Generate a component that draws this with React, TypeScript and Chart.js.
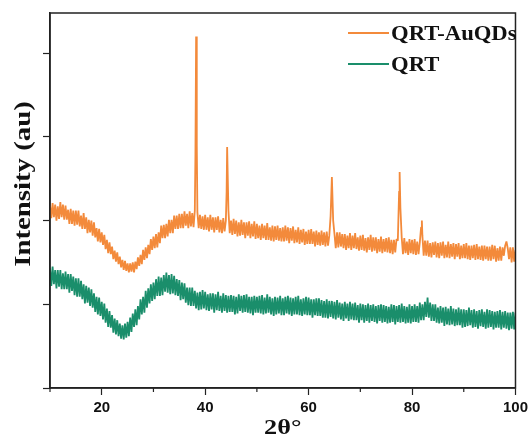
import React, { useEffect, useRef } from "react";
import { Chart, registerables } from "chart.js";

Chart.register(...registerables);

// 2θ sampling grid (degrees), 0.25° steps from 10 to 100
const angleStart = 10;
const angleStep = 0.25;

// QRT-AuQDs intensity on the 0.25° grid (a.u.), 20 values = 5° per row
const auqdsValues = [
  218, 203, 221, 204, 219, 200, 217, 202, 222, 204, 219, 201, 218, 201, 213, 196, 214, 196, 212, 194,
  212, 195, 212, 193, 206, 190, 209, 190, 204, 185, 201, 186, 200, 182, 198, 180, 191, 175, 190, 174,
  186, 171, 183, 166, 177, 161, 174, 160, 169, 154, 164, 151, 162, 148, 157, 144, 153, 141, 152, 140,
  149, 138, 149, 139, 150, 138, 151, 142, 156, 146, 159, 148, 165, 153, 168, 155, 171, 160, 178, 165,
  181, 167, 184, 168, 186, 173, 194, 179, 195, 179, 196, 181, 201, 185, 201, 185, 206, 190, 206, 190,
  208, 191, 208, 191, 211, 194, 208, 191, 211, 193, 209, 192, 212, 420, 210, 191, 207, 190, 205, 189,
  207, 189, 204, 187, 207, 189, 204, 186, 204, 189, 205, 186, 201, 185, 203, 187, 200, 288, 212, 185,
  200, 183, 202, 184, 200, 181, 198, 182, 201, 183, 198, 179, 198, 182, 199, 179, 196, 181, 199, 178,
  196, 179, 194, 177, 196, 179, 194, 177, 197, 177, 192, 176, 194, 175, 193, 177, 194, 176, 191, 175,
  192, 175, 194, 176, 192, 173, 191, 176, 193, 173, 189, 174, 192, 172, 189, 174, 190, 171, 187, 172,
  189, 172, 190, 172, 187, 169, 188, 171, 186, 170, 188, 171, 186, 169, 187, 170, 182, 205, 252, 200,
  184, 167, 186, 168, 186, 169, 184, 167, 184, 165, 182, 167, 185, 165, 182, 167, 185, 166, 180, 164,
  182, 165, 183, 164, 179, 162, 180, 165, 183, 163, 180, 164, 180, 161, 178, 163, 181, 161, 178, 163,
  179, 162, 180, 161, 177, 160, 177, 162, 178, 176, 235, 215, 180, 160, 179, 161, 175, 159, 178, 161,
  177, 160, 178, 159, 175, 160, 174, 192, 182, 158, 176, 158, 176, 157, 173, 156, 174, 159, 175, 156,
  173, 155, 174, 158, 175, 155, 171, 156, 175, 155, 172, 157, 173, 154, 172, 157, 173, 154, 170, 155,
  172, 155, 173, 154, 170, 153, 170, 155, 171, 153, 172, 154, 169, 153, 170, 152, 170, 154, 169, 152,
  169, 152, 171, 154, 170, 151, 167, 152, 169, 152, 168, 158, 170, 175, 167, 154, 168, 150, 168, 151,
  165,
];

// extra samples across the sharp Au reflections
const auqdsPeakAngles = [38.12, 38.38, 44.15, 77.6, 81.9];
const auqdsPeakValues = [280, 290, 235, 258, 200];

// QRT intensity on the 0.25° grid (a.u.), 20 values = 5° per row
const qrtValues = [
  143, 122, 145, 124, 141, 119, 141, 121, 141, 118, 137, 118, 139, 118, 136, 114, 136, 116, 133, 111,
  131, 109, 131, 109, 128, 106, 124, 101, 122, 102, 120, 98, 118, 96, 113, 91, 109, 88, 108, 86,
  103, 82, 101, 78, 95, 73, 92, 72, 87, 66, 83, 64, 81, 62, 77, 59, 75, 58, 77, 60,
  79, 62, 84, 67, 89, 73, 94, 75, 98, 82, 106, 88, 109, 90, 116, 96, 119, 101, 124, 104,
  126, 106, 130, 110, 133, 110, 132, 111, 135, 115, 138, 114, 135, 112, 136, 113, 134, 111, 130, 110,
  129, 105, 126, 106, 125, 102, 120, 99, 120, 98, 120, 98, 116, 95, 114, 93, 115, 94, 117, 95,
  115, 93, 112, 92, 113, 94, 113, 90, 112, 93, 115, 92, 110, 90, 113, 92, 111, 90, 110, 91,
  111, 91, 110, 88, 109, 89, 112, 92, 110, 90, 111, 91, 112, 90, 109, 89, 109, 87, 110, 90,
  109, 90, 110, 89, 111, 88, 108, 89, 112, 90, 109, 88, 107, 86, 109, 88, 108, 89, 110, 87,
  107, 87, 109, 89, 110, 88, 108, 86, 107, 88, 109, 88, 110, 87, 106, 86, 107, 88, 109, 87,
  108, 87, 106, 84, 106, 87, 107, 86, 107, 86, 105, 84, 104, 84, 106, 83, 104, 85, 104, 83,
  103, 82, 105, 84, 102, 82, 101, 80, 103, 83, 101, 80, 103, 82, 101, 81, 102, 81, 99, 78,
  101, 81, 100, 78, 99, 80, 101, 78, 99, 80, 100, 79, 98, 77, 99, 80, 100, 78, 99, 79,
  98, 77, 97, 78, 100, 79, 99, 76, 98, 79, 99, 78, 101, 79, 98, 77, 97, 78, 100, 77,
  98, 79, 100, 79, 98, 78, 102, 81, 100, 81, 103, 85, 108, 84, 102, 80, 100, 80, 100, 78,
  96, 77, 98, 78, 96, 74, 97, 76, 95, 75, 98, 76, 95, 74, 94, 75, 96, 75, 94, 72,
  94, 73, 93, 74, 96, 75, 93, 72, 94, 73, 92, 71, 93, 74, 94, 73, 91, 71, 94, 72,
  93, 73, 92, 70, 91, 72, 92, 72, 93, 70, 91, 72, 92, 71, 90, 69, 90, 71, 91, 70,
  90,
];

const xTickValues = [20, 40, 60, 80, 100];
const xMinorTickValues = [10, 30, 50, 70, 90];
const seriesNames = ["QRT-AuQDs", "QRT"];
const seriesColors = ["#F38A3B", "#1A8E6B"];

function gridPoints(values: number[]) {
  return values.map((v, i) => ({ x: angleStart + i * angleStep, y: v }));
}

function mergedAuqds() {
  const pts = gridPoints(auqdsValues).concat(
    auqdsPeakAngles.map((a, i) => ({ x: a, y: auqdsPeakValues[i] }))
  );
  pts.sort((a, b) => a.x - b.x);
  return pts;
}

const framePlugin = {
  id: "frameAndText",
  afterDraw(chart: any) {
    const { ctx, chartArea } = chart;
    const xs = chart.scales.x;
    ctx.save();
    ctx.strokeStyle = "#222";
    ctx.lineWidth = 1.5;
    ctx.strokeRect(chartArea.left, chartArea.top, chartArea.right - chartArea.left, chartArea.bottom - chartArea.top);
    // minor ticks
    ctx.lineWidth = 1.2;
    xMinorTickValues.forEach((v) => {
      const px = xs.getPixelForValue(v);
      ctx.beginPath();
      ctx.moveTo(px, chartArea.bottom);
      ctx.lineTo(px, chartArea.bottom + 4);
      ctx.stroke();
    });
    // legend
    ctx.font = "bold 22px 'Liberation Serif'";
    ctx.textBaseline = "middle";
    ctx.textAlign = "left";
    const legendY = [33, 64];
    seriesNames.forEach((name, i) => {
      ctx.strokeStyle = seriesColors[i];
      ctx.lineWidth = 2;
      ctx.beginPath();
      ctx.moveTo(chartArea.left + 298, legendY[i]);
      ctx.lineTo(chartArea.left + 339, legendY[i]);
      ctx.stroke();
      ctx.fillStyle = "#111";
      ctx.save();
      ctx.translate(chartArea.left + 341, legendY[i] + 1);
      ctx.scale(1.03, 1);
      ctx.fillText(name, 0, 0);
      ctx.restore();
    });
    // axis titles
    ctx.textAlign = "center";
    ctx.save();
    ctx.font = "bold 21px 'Liberation Serif'";
    ctx.translate((chartArea.left + chartArea.right) / 2, 429);
    ctx.scale(1.25, 1);
    ctx.fillText("2θ°", 0, 0);
    ctx.restore();
    ctx.save();
    ctx.font = "bold 24px 'Liberation Serif'";
    ctx.translate(24, 184);
    ctx.rotate(-Math.PI / 2);
    ctx.scale(1.2, 1);
    ctx.fillText("Intensity (au)", 0, 0);
    ctx.restore();
    ctx.restore();
  },
};

export default function App() {
  const canvasRef = useRef<HTMLCanvasElement | null>(null);

  useEffect(() => {
    if (!canvasRef.current) return;
    const chart = new Chart(canvasRef.current, {
      type: "line",
      data: {
        datasets: [
          {
            label: seriesNames[0],
            data: mergedAuqds(),
            borderColor: seriesColors[0],
            borderWidth: 1.8,
            borderJoinStyle: "bevel",
            pointRadius: 0,
            tension: 0,
          },
          {
            label: seriesNames[1],
            data: gridPoints(qrtValues),
            borderColor: seriesColors[1],
            borderWidth: 1.8,
            borderJoinStyle: "bevel",
            pointRadius: 0,
            tension: 0,
          },
        ],
      },
      options: {
        responsive: false,
        animation: false,
        layout: { padding: { top: 13, right: 15, left: 0, bottom: 0 } },
        plugins: { legend: { display: false }, tooltip: { enabled: false } },
        scales: {
          x: {
            type: "linear",
            min: 10,
            max: 100,
            afterFit: (s: any) => {
              s.height = 52;
            },
            border: { display: true, color: "#222", width: 1.5 },
            grid: {
              drawOnChartArea: false,
              drawTicks: true,
              tickLength: 7,
              tickWidth: 1.2,
              tickColor: (c: any) =>
                c.tick && xTickValues.includes(c.tick.value) ? "#222" : "rgba(0,0,0,0)",
            },
            ticks: {
              stepSize: 10,
              padding: 4,
              color: "#111",
              font: { family: "'Liberation Sans'", size: 15, weight: "bold" },
              callback: (v: any) => (xTickValues.includes(Number(v)) ? String(v) : ""),
              maxRotation: 0,
              autoSkip: false,
            },
          },
          y: {
            min: 0,
            max: 448,
            afterFit: (s: any) => {
              s.width = 50;
            },
            border: { display: true, color: "#222", width: 1.5 },
            grid: {
              drawOnChartArea: false,
              drawTicks: true,
              tickLength: 7,
              tickWidth: 1.2,
              tickColor: (c: any) =>
                c.tick && c.tick.value % 100 === 0 ? "#222" : "rgba(0,0,0,0)",
            },
            ticks: { stepSize: 100, display: false },
          },
        },
      },
      plugins: [framePlugin],
    });
    return () => chart.destroy();
  }, []);

  return (
    <div style={{ position: "fixed", left: 0, top: 0, width: 532, height: 440, background: "#fff" }}>
      <canvas ref={canvasRef} width={532} height={440} />
    </div>
  );
}
